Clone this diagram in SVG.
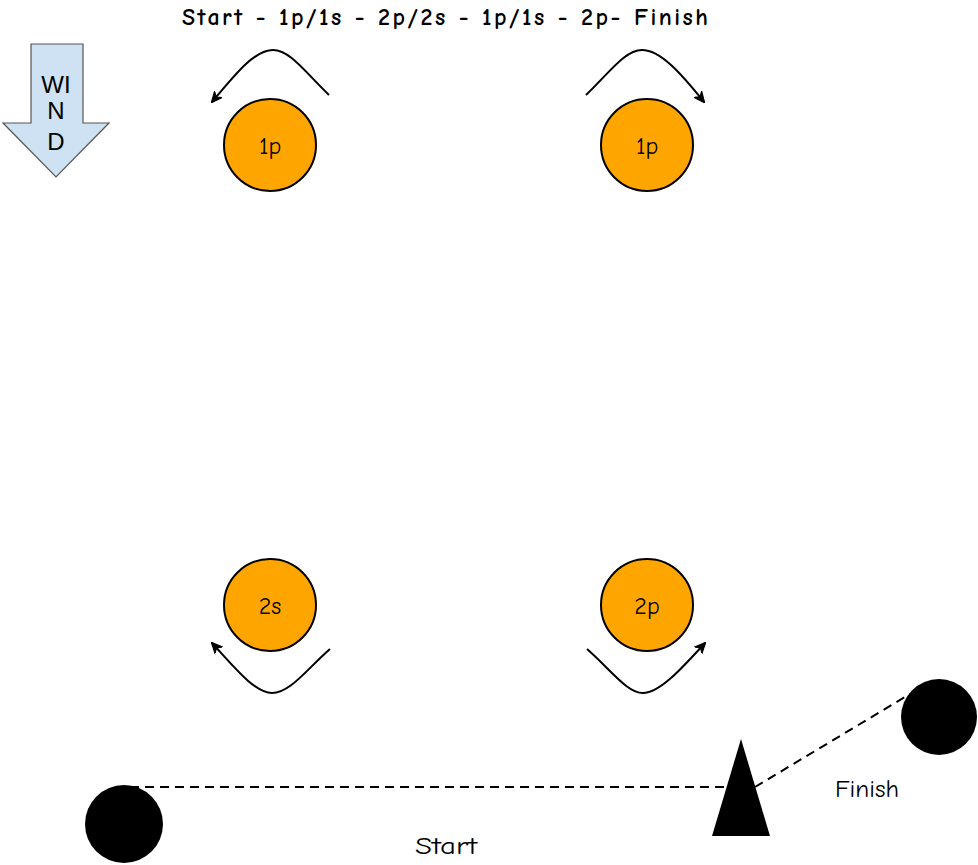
<svg xmlns="http://www.w3.org/2000/svg" width="978" height="865" viewBox="0 0 978 865">
<style>
text{font-family:"Comic Neue","Liberation Sans","DejaVu Sans",sans-serif;fill:#000}
.buoy circle{fill:#ffa500;stroke:#000;stroke-width:2}
.buoy text{font-size:24px;text-anchor:middle}
.turn{fill:none;stroke:#000;stroke-width:2;marker-end:url(#ah)}
.dash{fill:none;stroke:#000;stroke-width:2;stroke-dasharray:9 6}
.lbl{font-size:25px}
.wind{font-family:"Liberation Sans",Arial,sans-serif;font-size:24px;text-anchor:middle}
</style>
<defs>
<marker id="ah" viewBox="0 0 10 10" refX="9" refY="5" markerWidth="11" markerHeight="11" markerUnits="userSpaceOnUse" orient="auto">
<path d="M0,0.5 L10,5 L0,9.5 L3,5 Z" fill="#000" stroke="#000" stroke-width="1"/>
</marker>
</defs>
<text id="title" x="182" y="25" font-size="24" font-weight="bold" textLength="526" lengthAdjust="spacing">Start - 1p/1s - 2p/2s - 1p/1s - 2p- Finish</text>
<g id="wind">
<path d="M31,44 L83,44 L83,123 L109,123 L56,177 L3,123 L31,123 Z" fill="#cfe2f3" stroke="#555" stroke-width="1.2"/>
<text class="wind" x="56" y="93">WI</text>
<text class="wind" x="56" y="119">N</text>
<text class="wind" x="56" y="150">D</text>
</g>
<g id="buoy-1p-left" class="buoy"><circle cx="270" cy="145" r="46"/><text x="270" y="154">1p</text></g>
<g id="buoy-1p-right" class="buoy"><circle cx="647" cy="145" r="46"/><text x="647" y="154">1p</text></g>
<g id="buoy-2s" class="buoy"><circle cx="270" cy="605" r="46"/><text x="270" y="614">2s</text></g>
<g id="buoy-2p" class="buoy"><circle cx="647" cy="605" r="46"/><text x="647" y="614">2p</text></g>
<g id="pin"><polygon points="741,739 770,836 712,836" fill="#000"/></g>
<g id="start-boat"><circle cx="124" cy="824" r="39" fill="#000"/></g>
<g id="finish-boat"><circle cx="939" cy="717" r="38" fill="#000"/></g>
<g id="connectors">
<path class="turn" d="M329,95 C305,72 290,50 273,50 C255,50 237,72 212,102"/>
<path class="turn" d="M586,95 C610,72 625,50 642,50 C660,50 680,72 704,102"/>
<path class="turn" d="M330,649 C306,670 290,693 272,693 C255,693 235,668 212,643"/>
<path class="turn" d="M587,649 C611,670 627,693 643,693 C660,693 682,668 705,643"/>
<path class="dash" d="M130,787 L724,787"/>
<path class="dash" d="M755,787 L910,694"/>
</g>
<text class="lbl" x="415" y="854" textLength="62" lengthAdjust="spacingAndGlyphs">Start</text>
<text class="lbl" x="835" y="797" textLength="64" lengthAdjust="spacingAndGlyphs">Finish</text>
</svg>
